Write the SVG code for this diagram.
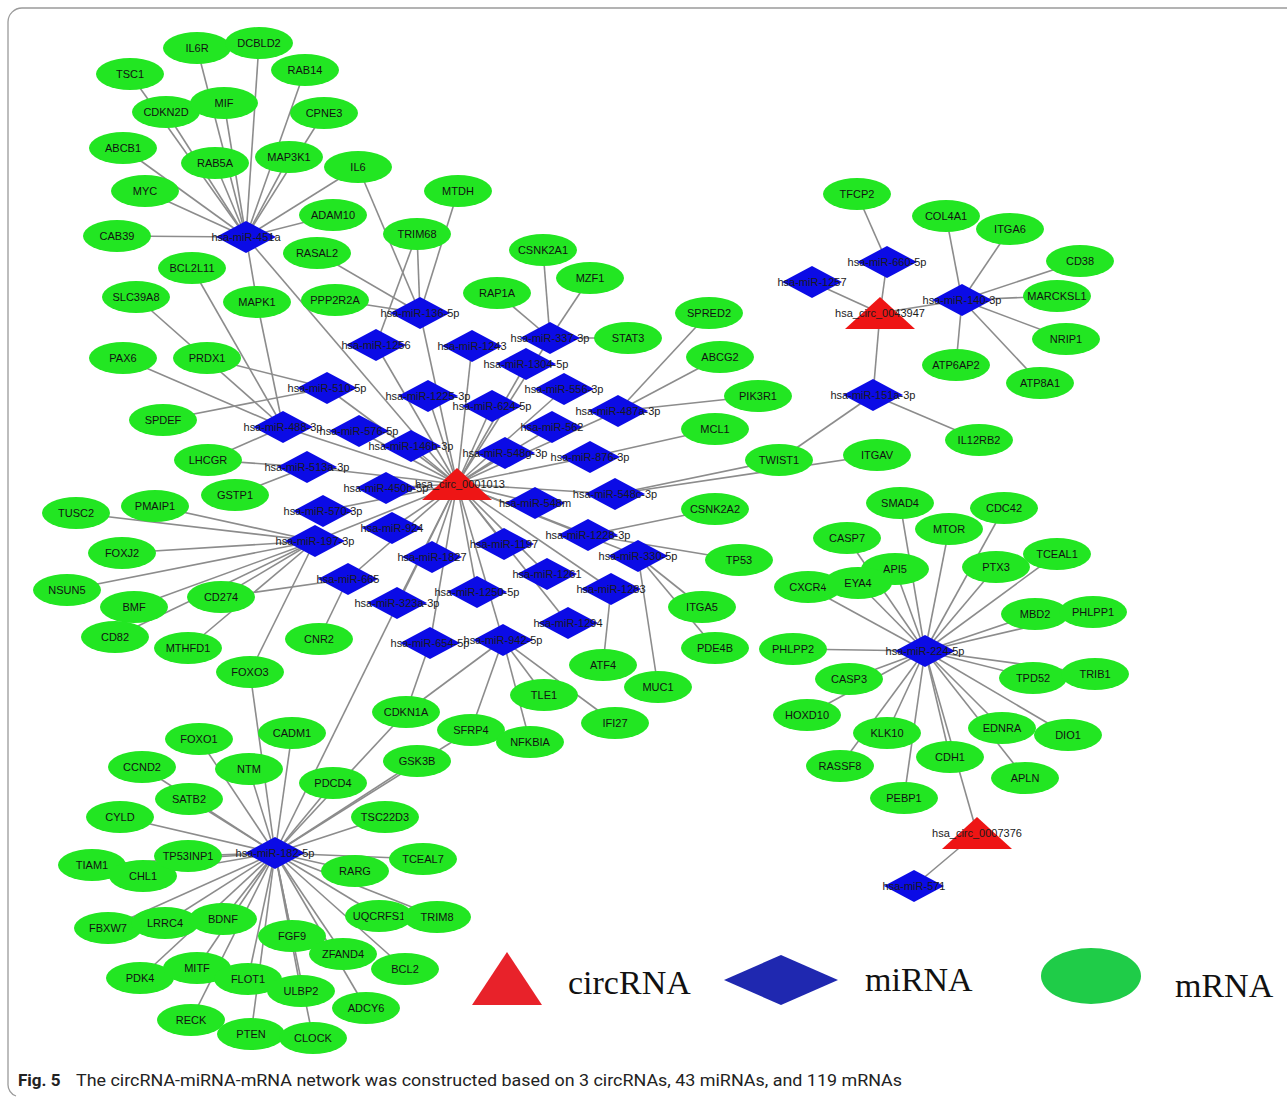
<svg xmlns="http://www.w3.org/2000/svg" xmlns:xlink="http://www.w3.org/1999/xlink" width="1287" height="1098" viewBox="0 0 1287 1098">
<defs>
  <ellipse id="ell" cx="0" cy="0" rx="34" ry="16"/>
  <polygon id="dia" points="-30,0 0,-16 30,0 0,16"/>
  <polygon id="tri" points="0,-16 35,16 -35,16"/>
  <style>
    .edges line { stroke: #8c8c8c; stroke-width: 1.6; }
    .mrna use { fill: #22e622; }
    .mirna use { fill: #0b0be6; }
    .circ use { fill: #ee1515; }
    text { font-family: "Liberation Sans", Arial, sans-serif; font-size: 11px; text-anchor: middle; fill: #111; }
    .mirna text, .circ text { fill: #1a1a1a; }
    .legend text { font-family: "Liberation Serif", "Times New Roman", serif; font-size: 34px; text-anchor: start; fill: #111; }
    .caption { font-family: "Liberation Sans Narrow", "Roboto", "Liberation Sans", sans-serif; font-size: 16px; text-anchor: start; fill: #222; }
  </style>
</defs>
<rect width="1287" height="1098" fill="#fff"/>
<path d="M1287,8 H22 A14,14 0 0 0 8,22 V1084 A12,12 0 0 0 16,1096" fill="none" stroke="#9a9a9a" stroke-width="1.3"/>

<g id="connectors" class="edges">
  <!-- hsa_circ_0001013 to its miRNAs -->
  <line x1="457" y1="484" x2="246" y2="237"/>
  <line x1="457" y1="484" x2="420" y2="313"/>
  <line x1="457" y1="484" x2="376" y2="345"/>
  <line x1="457" y1="484" x2="472" y2="346"/>
  <line x1="457" y1="484" x2="550" y2="338"/>
  <line x1="457" y1="484" x2="526" y2="364"/>
  <line x1="457" y1="484" x2="327" y2="388"/>
  <line x1="457" y1="484" x2="428" y2="396"/>
  <line x1="457" y1="484" x2="564" y2="389"/>
  <line x1="457" y1="484" x2="492" y2="406"/>
  <line x1="457" y1="484" x2="618" y2="411"/>
  <line x1="457" y1="484" x2="283" y2="427"/>
  <line x1="457" y1="484" x2="359" y2="431"/>
  <line x1="457" y1="484" x2="552" y2="427"/>
  <line x1="457" y1="484" x2="411" y2="446"/>
  <line x1="457" y1="484" x2="505" y2="453"/>
  <line x1="457" y1="484" x2="590" y2="457"/>
  <line x1="457" y1="484" x2="307" y2="467"/>
  <line x1="457" y1="484" x2="386" y2="488"/>
  <line x1="457" y1="484" x2="615" y2="494"/>
  <line x1="457" y1="484" x2="323" y2="511"/>
  <line x1="457" y1="484" x2="535" y2="503"/>
  <line x1="457" y1="484" x2="392" y2="528"/>
  <line x1="457" y1="484" x2="315" y2="541"/>
  <line x1="457" y1="484" x2="588" y2="535"/>
  <line x1="457" y1="484" x2="432" y2="557"/>
  <line x1="457" y1="484" x2="504" y2="544"/>
  <line x1="457" y1="484" x2="638" y2="556"/>
  <line x1="457" y1="484" x2="348" y2="579"/>
  <line x1="457" y1="484" x2="547" y2="574"/>
  <line x1="457" y1="484" x2="477" y2="592"/>
  <line x1="457" y1="484" x2="397" y2="603"/>
  <line x1="457" y1="484" x2="611" y2="589"/>
  <line x1="457" y1="484" x2="568" y2="623"/>
  <line x1="457" y1="484" x2="430" y2="643"/>
  <line x1="457" y1="484" x2="503" y2="640"/>
  <line x1="457" y1="484" x2="275" y2="853"/>
  <!-- hsa-miR-451a targets -->
  <line x1="246" y1="237" x2="130" y2="74"/>
  <line x1="246" y1="237" x2="197" y2="48"/>
  <line x1="246" y1="237" x2="259" y2="43"/>
  <line x1="246" y1="237" x2="305" y2="70"/>
  <line x1="246" y1="237" x2="224" y2="103"/>
  <line x1="246" y1="237" x2="166" y2="112"/>
  <line x1="246" y1="237" x2="324" y2="113"/>
  <line x1="246" y1="237" x2="123" y2="148"/>
  <line x1="246" y1="237" x2="215" y2="163"/>
  <line x1="246" y1="237" x2="289" y2="157"/>
  <line x1="246" y1="237" x2="358" y2="167"/>
  <line x1="246" y1="237" x2="145" y2="191"/>
  <line x1="246" y1="237" x2="333" y2="215"/>
  <line x1="246" y1="237" x2="117" y2="236"/>
  <line x1="246" y1="237" x2="257" y2="302"/>
  <!-- hsa-miR-136-5p / hsa-miR-1256 -->
  <line x1="420" y1="313" x2="358" y2="167"/>
  <line x1="420" y1="313" x2="417" y2="234"/>
  <line x1="420" y1="313" x2="317" y2="253"/>
  <line x1="420" y1="313" x2="335" y2="300"/>
  <line x1="420" y1="313" x2="458" y2="191"/>
  <line x1="376" y1="345" x2="417" y2="234"/>
  <!-- hsa-miR-337-3p -->
  <line x1="550" y1="338" x2="543" y2="250"/>
  <line x1="550" y1="338" x2="590" y2="278"/>
  <line x1="550" y1="338" x2="497" y2="293"/>
  <line x1="550" y1="338" x2="628" y2="338"/>
  <!-- hsa-miR-487a-3p / hsa-miR-876-3p -->
  <line x1="618" y1="411" x2="709" y2="313"/>
  <line x1="618" y1="411" x2="720" y2="357"/>
  <line x1="618" y1="411" x2="758" y2="396"/>
  <line x1="590" y1="457" x2="715" y2="429"/>
  <!-- left side miRNAs -->
  <line x1="327" y1="388" x2="207" y2="358"/>
  <line x1="327" y1="388" x2="163" y2="420"/>
  <line x1="283" y1="427" x2="192" y2="268"/>
  <line x1="283" y1="427" x2="136" y2="297"/>
  <line x1="283" y1="427" x2="123" y2="358"/>
  <line x1="283" y1="427" x2="257" y2="302"/>
  <line x1="283" y1="427" x2="208" y2="460"/>
  <line x1="307" y1="467" x2="208" y2="460"/>
  <line x1="307" y1="467" x2="235" y2="495"/>
  <!-- hsa-miR-197-3p -->
  <line x1="315" y1="541" x2="76" y2="513"/>
  <line x1="315" y1="541" x2="155" y2="506"/>
  <line x1="315" y1="541" x2="122" y2="553"/>
  <line x1="315" y1="541" x2="67" y2="590"/>
  <line x1="315" y1="541" x2="134" y2="607"/>
  <line x1="315" y1="541" x2="221" y2="597"/>
  <line x1="315" y1="541" x2="115" y2="637"/>
  <line x1="315" y1="541" x2="188" y2="648"/>
  <line x1="315" y1="541" x2="250" y2="672"/>
  <!-- hsa-miR-665 -->
  <line x1="348" y1="579" x2="221" y2="597"/>
  <line x1="348" y1="579" x2="319" y2="639"/>
  <!-- right side of the central cluster -->
  <line x1="615" y1="494" x2="779" y2="460"/>
  <line x1="615" y1="494" x2="877" y2="455"/>
  <line x1="588" y1="535" x2="715" y2="509"/>
  <line x1="588" y1="535" x2="739" y2="560"/>
  <line x1="638" y1="556" x2="702" y2="607"/>
  <line x1="638" y1="556" x2="715" y2="648"/>
  <line x1="638" y1="556" x2="658" y2="687"/>
  <line x1="611" y1="589" x2="603" y2="665"/>
  <!-- hsa-miR-942-5p / hsa-miR-654-5p -->
  <line x1="503" y1="640" x2="406" y2="712"/>
  <line x1="503" y1="640" x2="471" y2="730"/>
  <line x1="503" y1="640" x2="530" y2="742"/>
  <line x1="503" y1="640" x2="544" y2="695"/>
  <line x1="503" y1="640" x2="615" y2="723"/>
  <line x1="430" y1="643" x2="406" y2="712"/>
  <!-- hsa-miR-182-5p targets -->
  <line x1="275" y1="853" x2="250" y2="672"/>
  <line x1="275" y1="853" x2="406" y2="712"/>
  <line x1="275" y1="853" x2="471" y2="730"/>
  <line x1="275" y1="853" x2="292" y2="733"/>
  <line x1="275" y1="853" x2="199" y2="739"/>
  <line x1="275" y1="853" x2="249" y2="769"/>
  <line x1="275" y1="853" x2="142" y2="767"/>
  <line x1="275" y1="853" x2="417" y2="761"/>
  <line x1="275" y1="853" x2="333" y2="783"/>
  <line x1="275" y1="853" x2="189" y2="799"/>
  <line x1="275" y1="853" x2="120" y2="817"/>
  <line x1="275" y1="853" x2="385" y2="817"/>
  <line x1="275" y1="853" x2="92" y2="865"/>
  <line x1="275" y1="853" x2="188" y2="856"/>
  <line x1="275" y1="853" x2="143" y2="876"/>
  <line x1="275" y1="853" x2="423" y2="859"/>
  <line x1="275" y1="853" x2="355" y2="871"/>
  <line x1="275" y1="853" x2="108" y2="928"/>
  <line x1="275" y1="853" x2="165" y2="923"/>
  <line x1="275" y1="853" x2="223" y2="919"/>
  <line x1="275" y1="853" x2="379" y2="916"/>
  <line x1="275" y1="853" x2="437" y2="917"/>
  <line x1="275" y1="853" x2="292" y2="936"/>
  <line x1="275" y1="853" x2="343" y2="954"/>
  <line x1="275" y1="853" x2="405" y2="969"/>
  <line x1="275" y1="853" x2="140" y2="978"/>
  <line x1="275" y1="853" x2="197" y2="968"/>
  <line x1="275" y1="853" x2="248" y2="979"/>
  <line x1="275" y1="853" x2="301" y2="991"/>
  <line x1="275" y1="853" x2="366" y2="1008"/>
  <line x1="275" y1="853" x2="191" y2="1020"/>
  <line x1="275" y1="853" x2="251" y2="1034"/>
  <line x1="275" y1="853" x2="313" y2="1038"/>
  <!-- hsa_circ_0043947 and its miRNAs -->
  <line x1="880" y1="313" x2="887" y2="262"/>
  <line x1="880" y1="313" x2="812" y2="282"/>
  <line x1="880" y1="313" x2="962" y2="300"/>
  <line x1="880" y1="313" x2="873" y2="395"/>
  <line x1="887" y1="262" x2="857" y2="194"/>
  <line x1="962" y1="300" x2="946" y2="216"/>
  <line x1="962" y1="300" x2="1010" y2="229"/>
  <line x1="962" y1="300" x2="1080" y2="261"/>
  <line x1="962" y1="300" x2="1057" y2="296"/>
  <line x1="962" y1="300" x2="1066" y2="339"/>
  <line x1="962" y1="300" x2="956" y2="365"/>
  <line x1="962" y1="300" x2="1040" y2="383"/>
  <line x1="873" y1="395" x2="979" y2="440"/>
  <line x1="873" y1="395" x2="779" y2="460"/>
  <!-- hsa-miR-224-5p targets -->
  <line x1="925" y1="651" x2="900" y2="503"/>
  <line x1="925" y1="651" x2="1004" y2="508"/>
  <line x1="925" y1="651" x2="847" y2="538"/>
  <line x1="925" y1="651" x2="949" y2="529"/>
  <line x1="925" y1="651" x2="1057" y2="554"/>
  <line x1="925" y1="651" x2="895" y2="569"/>
  <line x1="925" y1="651" x2="996" y2="567"/>
  <line x1="925" y1="651" x2="808" y2="587"/>
  <line x1="925" y1="651" x2="858" y2="583"/>
  <line x1="925" y1="651" x2="1035" y2="614"/>
  <line x1="925" y1="651" x2="1093" y2="612"/>
  <line x1="925" y1="651" x2="793" y2="649"/>
  <line x1="925" y1="651" x2="849" y2="679"/>
  <line x1="925" y1="651" x2="1033" y2="678"/>
  <line x1="925" y1="651" x2="1095" y2="674"/>
  <line x1="925" y1="651" x2="807" y2="715"/>
  <line x1="925" y1="651" x2="887" y2="733"/>
  <line x1="925" y1="651" x2="1002" y2="728"/>
  <line x1="925" y1="651" x2="1068" y2="735"/>
  <line x1="925" y1="651" x2="950" y2="757"/>
  <line x1="925" y1="651" x2="840" y2="766"/>
  <line x1="925" y1="651" x2="1025" y2="778"/>
  <line x1="925" y1="651" x2="904" y2="798"/>
  <!-- hsa_circ_0007376 -->
  <line x1="977" y1="833" x2="925" y2="651"/>
  <line x1="977" y1="833" x2="914" y2="886"/>
</g>

<!-- mRNA nodes -->
<g class="mrna">
  <g id="TSC1"><use href="#ell" x="130" y="74"/><text x="130" y="78">TSC1</text></g>
  <g id="IL6R"><use href="#ell" x="197" y="48"/><text x="197" y="52">IL6R</text></g>
  <g id="DCBLD2"><use href="#ell" x="259" y="43"/><text x="259" y="47">DCBLD2</text></g>
  <g id="RAB14"><use href="#ell" x="305" y="70"/><text x="305" y="74">RAB14</text></g>
  <g id="CDKN2D"><use href="#ell" x="166" y="112"/><text x="166" y="116">CDKN2D</text></g>
  <g id="MIF"><use href="#ell" x="224" y="103"/><text x="224" y="107">MIF</text></g>
  <g id="CPNE3"><use href="#ell" x="324" y="113"/><text x="324" y="117">CPNE3</text></g>
  <g id="ABCB1"><use href="#ell" x="123" y="148"/><text x="123" y="152">ABCB1</text></g>
  <g id="RAB5A"><use href="#ell" x="215" y="163"/><text x="215" y="167">RAB5A</text></g>
  <g id="MAP3K1"><use href="#ell" x="289" y="157"/><text x="289" y="161">MAP3K1</text></g>
  <g id="IL6"><use href="#ell" x="358" y="167"/><text x="358" y="171">IL6</text></g>
  <g id="MYC"><use href="#ell" x="145" y="191"/><text x="145" y="195">MYC</text></g>
  <g id="ADAM10"><use href="#ell" x="333" y="215"/><text x="333" y="219">ADAM10</text></g>
  <g id="CAB39"><use href="#ell" x="117" y="236"/><text x="117" y="240">CAB39</text></g>
  <g id="RASAL2"><use href="#ell" x="317" y="253"/><text x="317" y="257">RASAL2</text></g>
  <g id="BCL2L11"><use href="#ell" x="192" y="268"/><text x="192" y="272">BCL2L11</text></g>
  <g id="TRIM68"><use href="#ell" x="417" y="234"/><text x="417" y="238">TRIM68</text></g>
  <g id="MTDH"><use href="#ell" x="458" y="191"/><text x="458" y="195">MTDH</text></g>
  <g id="SLC39A8"><use href="#ell" x="136" y="297"/><text x="136" y="301">SLC39A8</text></g>
  <g id="MAPK1"><use href="#ell" x="257" y="302"/><text x="257" y="306">MAPK1</text></g>
  <g id="PPP2R2A"><use href="#ell" x="335" y="300"/><text x="335" y="304">PPP2R2A</text></g>
  <g id="CSNK2A1"><use href="#ell" x="543" y="250"/><text x="543" y="254">CSNK2A1</text></g>
  <g id="MZF1"><use href="#ell" x="590" y="278"/><text x="590" y="282">MZF1</text></g>
  <g id="RAP1A"><use href="#ell" x="497" y="293"/><text x="497" y="297">RAP1A</text></g>
  <g id="STAT3"><use href="#ell" x="628" y="338"/><text x="628" y="342">STAT3</text></g>
  <g id="SPRED2"><use href="#ell" x="709" y="313"/><text x="709" y="317">SPRED2</text></g>
  <g id="ABCG2"><use href="#ell" x="720" y="357"/><text x="720" y="361">ABCG2</text></g>
  <g id="PAX6"><use href="#ell" x="123" y="358"/><text x="123" y="362">PAX6</text></g>
  <g id="PRDX1"><use href="#ell" x="207" y="358"/><text x="207" y="362">PRDX1</text></g>
  <g id="PIK3R1"><use href="#ell" x="758" y="396"/><text x="758" y="400">PIK3R1</text></g>
  <g id="SPDEF"><use href="#ell" x="163" y="420"/><text x="163" y="424">SPDEF</text></g>
  <g id="MCL1"><use href="#ell" x="715" y="429"/><text x="715" y="433">MCL1</text></g>
  <g id="LHCGR"><use href="#ell" x="208" y="460"/><text x="208" y="464">LHCGR</text></g>
  <g id="GSTP1"><use href="#ell" x="235" y="495"/><text x="235" y="499">GSTP1</text></g>
  <g id="TWIST1"><use href="#ell" x="779" y="460"/><text x="779" y="464">TWIST1</text></g>
  <g id="ITGAV"><use href="#ell" x="877" y="455"/><text x="877" y="459">ITGAV</text></g>
  <g id="TUSC2"><use href="#ell" x="76" y="513"/><text x="76" y="517">TUSC2</text></g>
  <g id="PMAIP1"><use href="#ell" x="155" y="506"/><text x="155" y="510">PMAIP1</text></g>
  <g id="CSNK2A2"><use href="#ell" x="715" y="509"/><text x="715" y="513">CSNK2A2</text></g>
  <g id="FOXJ2"><use href="#ell" x="122" y="553"/><text x="122" y="557">FOXJ2</text></g>
  <g id="TP53"><use href="#ell" x="739" y="560"/><text x="739" y="564">TP53</text></g>
  <g id="NSUN5"><use href="#ell" x="67" y="590"/><text x="67" y="594">NSUN5</text></g>
  <g id="BMF"><use href="#ell" x="134" y="607"/><text x="134" y="611">BMF</text></g>
  <g id="CD274"><use href="#ell" x="221" y="597"/><text x="221" y="601">CD274</text></g>
  <g id="CD82"><use href="#ell" x="115" y="637"/><text x="115" y="641">CD82</text></g>
  <g id="MTHFD1"><use href="#ell" x="188" y="648"/><text x="188" y="652">MTHFD1</text></g>
  <g id="CNR2"><use href="#ell" x="319" y="639"/><text x="319" y="643">CNR2</text></g>
  <g id="ITGA5"><use href="#ell" x="702" y="607"/><text x="702" y="611">ITGA5</text></g>
  <g id="PDE4B"><use href="#ell" x="715" y="648"/><text x="715" y="652">PDE4B</text></g>
  <g id="FOXO3"><use href="#ell" x="250" y="672"/><text x="250" y="676">FOXO3</text></g>
  <g id="ATF4"><use href="#ell" x="603" y="665"/><text x="603" y="669">ATF4</text></g>
  <g id="MUC1"><use href="#ell" x="658" y="687"/><text x="658" y="691">MUC1</text></g>
  <g id="TLE1"><use href="#ell" x="544" y="695"/><text x="544" y="699">TLE1</text></g>
  <g id="IFI27"><use href="#ell" x="615" y="723"/><text x="615" y="727">IFI27</text></g>
  <g id="CDKN1A"><use href="#ell" x="406" y="712"/><text x="406" y="716">CDKN1A</text></g>
  <g id="SFRP4"><use href="#ell" x="471" y="730"/><text x="471" y="734">SFRP4</text></g>
  <g id="NFKBIA"><use href="#ell" x="530" y="742"/><text x="530" y="746">NFKBIA</text></g>
  <g id="CADM1"><use href="#ell" x="292" y="733"/><text x="292" y="737">CADM1</text></g>
  <g id="FOXO1"><use href="#ell" x="199" y="739"/><text x="199" y="743">FOXO1</text></g>
  <g id="NTM"><use href="#ell" x="249" y="769"/><text x="249" y="773">NTM</text></g>
  <g id="CCND2"><use href="#ell" x="142" y="767"/><text x="142" y="771">CCND2</text></g>
  <g id="GSK3B"><use href="#ell" x="417" y="761"/><text x="417" y="765">GSK3B</text></g>
  <g id="PDCD4"><use href="#ell" x="333" y="783"/><text x="333" y="787">PDCD4</text></g>
  <g id="SATB2"><use href="#ell" x="189" y="799"/><text x="189" y="803">SATB2</text></g>
  <g id="CYLD"><use href="#ell" x="120" y="817"/><text x="120" y="821">CYLD</text></g>
  <g id="TSC22D3"><use href="#ell" x="385" y="817"/><text x="385" y="821">TSC22D3</text></g>
  <g id="TIAM1"><use href="#ell" x="92" y="865"/><text x="92" y="869">TIAM1</text></g>
  <g id="CHL1"><use href="#ell" x="143" y="876"/><text x="143" y="880">CHL1</text></g>
  <g id="TP53INP1"><use href="#ell" x="188" y="856"/><text x="188" y="860">TP53INP1</text></g>
  <g id="TCEAL7"><use href="#ell" x="423" y="859"/><text x="423" y="863">TCEAL7</text></g>
  <g id="RARG"><use href="#ell" x="355" y="871"/><text x="355" y="875">RARG</text></g>
  <g id="FBXW7"><use href="#ell" x="108" y="928"/><text x="108" y="932">FBXW7</text></g>
  <g id="LRRC4"><use href="#ell" x="165" y="923"/><text x="165" y="927">LRRC4</text></g>
  <g id="BDNF"><use href="#ell" x="223" y="919"/><text x="223" y="923">BDNF</text></g>
  <g id="UQCRFS1"><use href="#ell" x="379" y="916"/><text x="379" y="920">UQCRFS1</text></g>
  <g id="TRIM8"><use href="#ell" x="437" y="917"/><text x="437" y="921">TRIM8</text></g>
  <g id="FGF9"><use href="#ell" x="292" y="936"/><text x="292" y="940">FGF9</text></g>
  <g id="ZFAND4"><use href="#ell" x="343" y="954"/><text x="343" y="958">ZFAND4</text></g>
  <g id="BCL2"><use href="#ell" x="405" y="969"/><text x="405" y="973">BCL2</text></g>
  <g id="PDK4"><use href="#ell" x="140" y="978"/><text x="140" y="982">PDK4</text></g>
  <g id="MITF"><use href="#ell" x="197" y="968"/><text x="197" y="972">MITF</text></g>
  <g id="FLOT1"><use href="#ell" x="248" y="979"/><text x="248" y="983">FLOT1</text></g>
  <g id="ULBP2"><use href="#ell" x="301" y="991"/><text x="301" y="995">ULBP2</text></g>
  <g id="ADCY6"><use href="#ell" x="366" y="1008"/><text x="366" y="1012">ADCY6</text></g>
  <g id="RECK"><use href="#ell" x="191" y="1020"/><text x="191" y="1024">RECK</text></g>
  <g id="PTEN"><use href="#ell" x="251" y="1034"/><text x="251" y="1038">PTEN</text></g>
  <g id="CLOCK"><use href="#ell" x="313" y="1038"/><text x="313" y="1042">CLOCK</text></g>
  <g id="TFCP2"><use href="#ell" x="857" y="194"/><text x="857" y="198">TFCP2</text></g>
  <g id="COL4A1"><use href="#ell" x="946" y="216"/><text x="946" y="220">COL4A1</text></g>
  <g id="ITGA6"><use href="#ell" x="1010" y="229"/><text x="1010" y="233">ITGA6</text></g>
  <g id="CD38"><use href="#ell" x="1080" y="261"/><text x="1080" y="265">CD38</text></g>
  <g id="MARCKSL1"><use href="#ell" x="1057" y="296"/><text x="1057" y="300">MARCKSL1</text></g>
  <g id="NRIP1"><use href="#ell" x="1066" y="339"/><text x="1066" y="343">NRIP1</text></g>
  <g id="ATP6AP2"><use href="#ell" x="956" y="365"/><text x="956" y="369">ATP6AP2</text></g>
  <g id="ATP8A1"><use href="#ell" x="1040" y="383"/><text x="1040" y="387">ATP8A1</text></g>
  <g id="IL12RB2"><use href="#ell" x="979" y="440"/><text x="979" y="444">IL12RB2</text></g>
  <g id="SMAD4"><use href="#ell" x="900" y="503"/><text x="900" y="507">SMAD4</text></g>
  <g id="CDC42"><use href="#ell" x="1004" y="508"/><text x="1004" y="512">CDC42</text></g>
  <g id="CASP7"><use href="#ell" x="847" y="538"/><text x="847" y="542">CASP7</text></g>
  <g id="MTOR"><use href="#ell" x="949" y="529"/><text x="949" y="533">MTOR</text></g>
  <g id="TCEAL1"><use href="#ell" x="1057" y="554"/><text x="1057" y="558">TCEAL1</text></g>
  <g id="API5"><use href="#ell" x="895" y="569"/><text x="895" y="573">API5</text></g>
  <g id="PTX3"><use href="#ell" x="996" y="567"/><text x="996" y="571">PTX3</text></g>
  <g id="CXCR4"><use href="#ell" x="808" y="587"/><text x="808" y="591">CXCR4</text></g>
  <g id="EYA4"><use href="#ell" x="858" y="583"/><text x="858" y="587">EYA4</text></g>
  <g id="MBD2"><use href="#ell" x="1035" y="614"/><text x="1035" y="618">MBD2</text></g>
  <g id="PHLPP1"><use href="#ell" x="1093" y="612"/><text x="1093" y="616">PHLPP1</text></g>
  <g id="PHLPP2"><use href="#ell" x="793" y="649"/><text x="793" y="653">PHLPP2</text></g>
  <g id="CASP3"><use href="#ell" x="849" y="679"/><text x="849" y="683">CASP3</text></g>
  <g id="TPD52"><use href="#ell" x="1033" y="678"/><text x="1033" y="682">TPD52</text></g>
  <g id="TRIB1"><use href="#ell" x="1095" y="674"/><text x="1095" y="678">TRIB1</text></g>
  <g id="HOXD10"><use href="#ell" x="807" y="715"/><text x="807" y="719">HOXD10</text></g>
  <g id="KLK10"><use href="#ell" x="887" y="733"/><text x="887" y="737">KLK10</text></g>
  <g id="EDNRA"><use href="#ell" x="1002" y="728"/><text x="1002" y="732">EDNRA</text></g>
  <g id="DIO1"><use href="#ell" x="1068" y="735"/><text x="1068" y="739">DIO1</text></g>
  <g id="CDH1"><use href="#ell" x="950" y="757"/><text x="950" y="761">CDH1</text></g>
  <g id="RASSF8"><use href="#ell" x="840" y="766"/><text x="840" y="770">RASSF8</text></g>
  <g id="APLN"><use href="#ell" x="1025" y="778"/><text x="1025" y="782">APLN</text></g>
  <g id="PEBP1"><use href="#ell" x="904" y="798"/><text x="904" y="802">PEBP1</text></g>
</g>

<!-- miRNA nodes -->
<g class="mirna">
  <g id="hsa-miR-451a"><use href="#dia" x="246" y="237"/><text x="246" y="241">hsa-miR-451a</text></g>
  <g id="hsa-miR-136-5p"><use href="#dia" x="420" y="313"/><text x="420" y="317">hsa-miR-136-5p</text></g>
  <g id="hsa-miR-1256"><use href="#dia" x="376" y="345"/><text x="376" y="349">hsa-miR-1256</text></g>
  <g id="hsa-miR-1243"><use href="#dia" x="472" y="346"/><text x="472" y="350">hsa-miR-1243</text></g>
  <g id="hsa-miR-337-3p"><use href="#dia" x="550" y="338"/><text x="550" y="342">hsa-miR-337-3p</text></g>
  <g id="hsa-miR-1304-5p"><use href="#dia" x="526" y="364"/><text x="526" y="368">hsa-miR-1304-5p</text></g>
  <g id="hsa-miR-510-5p"><use href="#dia" x="327" y="388"/><text x="327" y="392">hsa-miR-510-5p</text></g>
  <g id="hsa-miR-1225-3p"><use href="#dia" x="428" y="396"/><text x="428" y="400">hsa-miR-1225-3p</text></g>
  <g id="hsa-miR-556-3p"><use href="#dia" x="564" y="389"/><text x="564" y="393">hsa-miR-556-3p</text></g>
  <g id="hsa-miR-624-5p"><use href="#dia" x="492" y="406"/><text x="492" y="410">hsa-miR-624-5p</text></g>
  <g id="hsa-miR-487a-3p"><use href="#dia" x="618" y="411"/><text x="618" y="415">hsa-miR-487a-3p</text></g>
  <g id="hsa-miR-488-3p"><use href="#dia" x="283" y="427"/><text x="283" y="431">hsa-miR-488-3p</text></g>
  <g id="hsa-miR-576-5p"><use href="#dia" x="359" y="431"/><text x="359" y="435">hsa-miR-576-5p</text></g>
  <g id="hsa-miR-562"><use href="#dia" x="552" y="427"/><text x="552" y="431">hsa-miR-562</text></g>
  <g id="hsa-miR-146b-3p"><use href="#dia" x="411" y="446"/><text x="411" y="450">hsa-miR-146b-3p</text></g>
  <g id="hsa-miR-548g-3p"><use href="#dia" x="505" y="453"/><text x="505" y="457">hsa-miR-548g-3p</text></g>
  <g id="hsa-miR-876-3p"><use href="#dia" x="590" y="457"/><text x="590" y="461">hsa-miR-876-3p</text></g>
  <g id="hsa-miR-513a-3p"><use href="#dia" x="307" y="467"/><text x="307" y="471">hsa-miR-513a-3p</text></g>
  <g id="hsa-miR-450b-5p"><use href="#dia" x="386" y="488"/><text x="386" y="492">hsa-miR-450b-5p</text></g>
  <g id="hsa-miR-548c-3p"><use href="#dia" x="615" y="494"/><text x="615" y="498">hsa-miR-548c-3p</text></g>
  <g id="hsa-miR-570-3p"><use href="#dia" x="323" y="511"/><text x="323" y="515">hsa-miR-570-3p</text></g>
  <g id="hsa-miR-548m"><use href="#dia" x="535" y="503"/><text x="535" y="507">hsa-miR-548m</text></g>
  <g id="hsa-miR-924"><use href="#dia" x="392" y="528"/><text x="392" y="532">hsa-miR-924</text></g>
  <g id="hsa-miR-197-3p"><use href="#dia" x="315" y="541"/><text x="315" y="545">hsa-miR-197-3p</text></g>
  <g id="hsa-miR-1228-3p"><use href="#dia" x="588" y="535"/><text x="588" y="539">hsa-miR-1228-3p</text></g>
  <g id="hsa-miR-1827"><use href="#dia" x="432" y="557"/><text x="432" y="561">hsa-miR-1827</text></g>
  <g id="hsa-miR-1197"><use href="#dia" x="504" y="544"/><text x="504" y="548">hsa-miR-1197</text></g>
  <g id="hsa-miR-330-5p"><use href="#dia" x="638" y="556"/><text x="638" y="560">hsa-miR-330-5p</text></g>
  <g id="hsa-miR-665"><use href="#dia" x="348" y="579"/><text x="348" y="583">hsa-miR-665</text></g>
  <g id="hsa-miR-1261"><use href="#dia" x="547" y="574"/><text x="547" y="578">hsa-miR-1261</text></g>
  <g id="hsa-miR-1250-5p"><use href="#dia" x="477" y="592"/><text x="477" y="596">hsa-miR-1250-5p</text></g>
  <g id="hsa-miR-323a-3p"><use href="#dia" x="397" y="603"/><text x="397" y="607">hsa-miR-323a-3p</text></g>
  <g id="hsa-miR-1283"><use href="#dia" x="611" y="589"/><text x="611" y="593">hsa-miR-1283</text></g>
  <g id="hsa-miR-1294"><use href="#dia" x="568" y="623"/><text x="568" y="627">hsa-miR-1294</text></g>
  <g id="hsa-miR-654-5p"><use href="#dia" x="430" y="643"/><text x="430" y="647">hsa-miR-654-5p</text></g>
  <g id="hsa-miR-942-5p"><use href="#dia" x="503" y="640"/><text x="503" y="644">hsa-miR-942-5p</text></g>
  <g id="hsa-miR-182-5p"><use href="#dia" x="275" y="853"/><text x="275" y="857">hsa-miR-182-5p</text></g>
  <g id="hsa-miR-660-5p"><use href="#dia" x="887" y="262"/><text x="887" y="266">hsa-miR-660-5p</text></g>
  <g id="hsa-miR-1257"><use href="#dia" x="812" y="282"/><text x="812" y="286">hsa-miR-1257</text></g>
  <g id="hsa-miR-140-3p"><use href="#dia" x="962" y="300"/><text x="962" y="304">hsa-miR-140-3p</text></g>
  <g id="hsa-miR-151a-3p"><use href="#dia" x="873" y="395"/><text x="873" y="399">hsa-miR-151a-3p</text></g>
  <g id="hsa-miR-224-5p"><use href="#dia" x="925" y="651"/><text x="925" y="655">hsa-miR-224-5p</text></g>
  <g id="hsa-miR-571"><use href="#dia" x="914" y="886"/><text x="914" y="890">hsa-miR-571</text></g>
</g>

<!-- circRNA nodes -->
<g class="circ">
  <g id="hsa_circ_0001013"><use href="#tri" x="457" y="484"/><text x="460" y="488">hsa_circ_0001013</text></g>
  <g id="hsa_circ_0043947"><use href="#tri" x="880" y="313"/><text x="880" y="317">hsa_circ_0043947</text></g>
  <g id="hsa_circ_0007376"><use href="#tri" x="977" y="833"/><text x="977" y="837">hsa_circ_0007376</text></g>
</g>

<!-- legend -->
<g id="legend" class="legend">
  <polygon points="507,952 542,1005 472,1005" fill="#e8222a"/>
  <text x="568" y="994">circRNA</text>
  <polygon points="724,980 781,955 838,980 781,1005" fill="#1f28b0"/>
  <text x="865" y="991">miRNA</text>
  <ellipse cx="1091" cy="976" rx="50" ry="28" fill="#1fcc48"/>
  <text x="1175" y="997">mRNA</text>
</g>

<!-- caption -->
<g id="caption">
  <text class="caption" x="18" y="1086" style="font-weight:bold;font-size:17px">Fig. 5</text>
  <text class="caption" x="76" y="1086" textLength="826" lengthAdjust="spacingAndGlyphs">The circRNA-miRNA-mRNA network was constructed based on 3 circRNAs, 43 miRNAs, and 119 mRNAs</text>
</g>
</svg>
